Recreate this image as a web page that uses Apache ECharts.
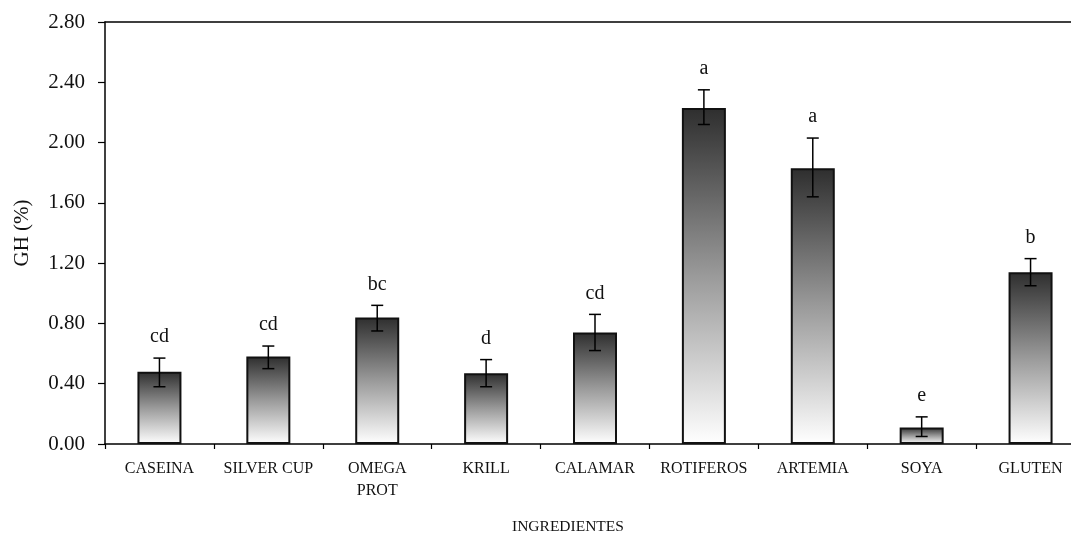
<!DOCTYPE html>
<html>
<head>
<meta charset="utf-8">
<script src="https://cdn.jsdelivr.net/npm/echarts@6/dist/echarts.min.js"></script>
<style>
html,body{margin:0;padding:0;background:#fff;}
#c{width:1071px;height:539px;}
</style>
</head>
<body>
<div id="c"></div>
<script>
const categories = ['CASEINA','SILVER CUP','OMEGA\nPROT','KRILL','CALAMAR','ROTIFEROS','ARTEMIA','SOYA','GLUTEN'];
const means = [0.48, 0.58, 0.84, 0.47, 0.74, 2.23, 1.83, 0.11, 1.14];
const errLow = [0.38, 0.50, 0.75, 0.38, 0.62, 2.12, 1.64, 0.05, 1.05];
const errHigh = [0.57, 0.65, 0.92, 0.56, 0.86, 2.35, 2.03, 0.18, 1.23];
const letters = ['cd','cd','bc','d','cd','a','a','e','b'];
const yTicks = {min: 0, max: 2.8, interval: 0.4};

const FONT = '"Liberation Serif", "Times New Roman", serif';
const chart = echarts.init(document.getElementById('c'));

const errData = means.map((m, i) => [i, errLow[i], errHigh[i]]);

chart.setOption({
  backgroundColor: '#fff',
  animation: false,
  grid: {left: 105, top: 22, width: 980, height: 422, containLabel: false, outerBoundsMode: 'none'},
  xAxis: [{
    type: 'category',
    data: categories,
    axisLine: {lineStyle: {color: '#000', width: 1.5}},
    axisTick: {show: true, interval: 0, length: 5, lineStyle: {color: '#000', width: 1.2}},
    axisLabel: {interval: 0, color: '#111', fontFamily: FONT, fontSize: 16, margin: 14, lineHeight: 22},
    splitLine: {show: false}
  }, {
    type: 'category',
    data: categories,
    position: 'top',
    axisLine: {lineStyle: {color: '#000', width: 1.5}},
    axisTick: {show: false},
    axisLabel: {show: false},
    splitLine: {show: false}
  }],
  yAxis: {
    type: 'value',
    min: yTicks.min, max: yTicks.max, interval: yTicks.interval,
    name: 'GH (%)',
    nameLocation: 'middle',
    nameRotate: 90,
    nameGap: 72,
    nameTextStyle: {color: '#111', fontFamily: FONT, fontSize: 21},
    axisLine: {show: true, lineStyle: {color: '#000', width: 1.5}},
    axisTick: {show: true, inside: false, length: 7, lineStyle: {color: '#000', width: 1.2}},
    axisLabel: {color: '#111', fontFamily: FONT, fontSize: 21, margin: 20, formatter: v => v.toFixed(2)},
    splitLine: {show: false}
  },
  graphic: [{
    type: 'text',
    left: 512, top: 519,
    style: {text: 'INGREDIENTES', font: '15.5px ' + FONT, fill: '#111'}
  }],
  series: [{
    type: 'bar',
    data: means,
    barWidth: 44,
    itemStyle: {
      color: new echarts.graphic.LinearGradient(0, 0, 0, 1, [
        {offset: 0, color: '#2e2e2e'},
        {offset: 0.5, color: '#9a9a9a'},
        {offset: 1, color: '#ffffff'}
      ]),
      borderColor: '#111',
      borderWidth: 2
    }
  }, {
    type: 'custom',
    data: errData,
    z: 10,
    renderItem: function (params, api) {
      const i = api.value(0);
      const pHi = api.coord([i, api.value(2)]);
      const pLo = api.coord([i, api.value(1)]);
      const cap = 6;
      const st = {stroke: '#000', lineWidth: 1.5};
      return {
        type: 'group',
        children: [
          {type: 'line', shape: {x1: pHi[0], y1: pHi[1], x2: pLo[0], y2: pLo[1]}, style: st},
          {type: 'line', shape: {x1: pHi[0] - cap, y1: pHi[1], x2: pHi[0] + cap, y2: pHi[1]}, style: st},
          {type: 'line', shape: {x1: pLo[0] - cap, y1: pLo[1], x2: pLo[0] + cap, y2: pLo[1]}, style: st},
          {type: 'text', style: {text: letters[params.dataIndex], x: pHi[0], y: pHi[1] - 21,
            textAlign: 'center', textVerticalAlign: 'middle', font: '20px ' + FONT, fill: '#111'}}
        ]
      };
    }
  }]
});
</script>
</body>
</html>
